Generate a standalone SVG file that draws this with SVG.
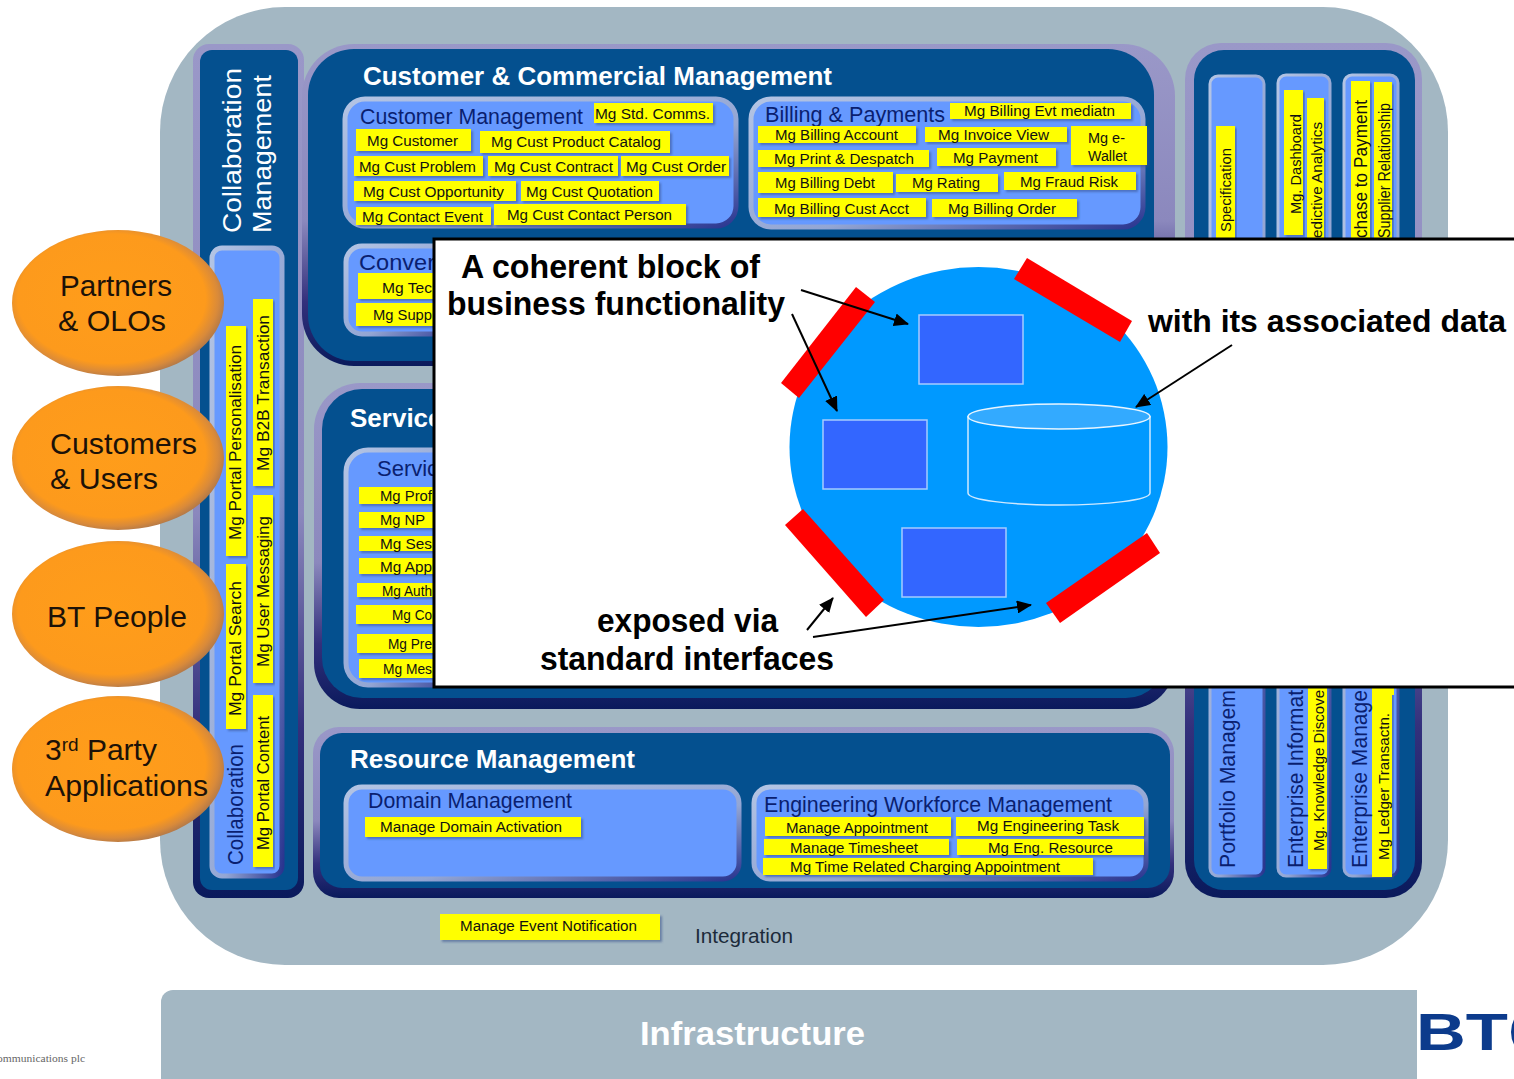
<svg xmlns="http://www.w3.org/2000/svg" width="1514" height="1079" viewBox="0 0 1514 1079">
<style>
text{font-family:"Liberation Sans",Arial,sans-serif}
.y{fill:#ffff00;filter:url(#sh)}
.l{font-size:14px;fill:#111}
.sub{fill:#6699ff;stroke:url(#bev);stroke-width:5}
.h1{font-size:26px;font-weight:bold;fill:#fff}
.h2{font-size:22px;fill:#0a1f70}
.v{font-size:22px;fill:#0a1f70}
.e{font-size:30px;fill:#1c1208;text-anchor:start}
.b{font-size:33px;font-weight:bold;fill:#000}
.bx{fill:#3366ff;stroke:#a6ccff;stroke-width:1.5}
.red{fill:#ff0000}
.arr{fill:none;stroke:#000;stroke-width:2;marker-end:url(#ah)}
</style>
<defs>
<linearGradient id="oc" x1="0" y1="0" x2="0" y2="1"><stop offset="0" stop-color="#9a98c8"/><stop offset=".55" stop-color="#8b88bd"/><stop offset=".8" stop-color="#33307c"/><stop offset="1" stop-color="#0a1a5c"/></linearGradient>
<linearGradient id="bev" x1="0" y1="0" x2="1" y2="1"><stop offset="0" stop-color="#b3c4e4"/><stop offset=".6" stop-color="#93a6d4"/><stop offset="1" stop-color="#2a3590"/></linearGradient>
<radialGradient id="or" cx=".47" cy=".47" r=".54"><stop offset="0" stop-color="#ff9d1a"/><stop offset=".82" stop-color="#fd9a1c"/><stop offset=".93" stop-color="#d98a3a"/><stop offset="1" stop-color="#b57a48"/></radialGradient>
<filter id="sh" x="-10%" y="-10%" width="120%" height="130%"><feDropShadow dx="2" dy="2" stdDeviation="1" flood-color="#39508a" flood-opacity=".55"/></filter>
<marker id="ah" markerWidth="15" markerHeight="13" refX="14" refY="6.500" orient="auto" markerUnits="userSpaceOnUse" viewBox="0 0 15 13"><path d="M0 0L15 6.500L0 13z" fill="#000"/></marker>
<clipPath id="inf"><rect x="150" y="980" width="1267" height="99"/></clipPath>
</defs>

<g id="background"><rect x="160" y="7" width="1288" height="958" rx="125" fill="#a3b7c3"/></g>

<g id="infrastructure">
<rect x="161" y="990" width="1300" height="100" rx="12" fill="#a3b7c3" clip-path="url(#inf)"/>
<text x="640" y="1045" font-size="33" font-weight="bold" fill="#fff" textLength="225" lengthAdjust="spacingAndGlyphs">Infrastructure</text>
</g>
<g id="logo">
<text x="1416" y="1050" font-size="52" font-weight="bold" fill="#0c3b8c" textLength="92" lengthAdjust="spacingAndGlyphs">BT</text>
<circle cx="1538" cy="1032" r="24" fill="none" stroke="#0c3b8c" stroke-width="6"/>
</g>
<text id="footer" x="-3" y="1062" style="font-family:'Liberation Serif',serif" font-size="11" fill="#666" textLength="88" lengthAdjust="spacingAndGlyphs">ommunications  plc</text>

<g id="collaboration">
<rect x="193" y="44" width="111" height="854" rx="16" fill="url(#oc)"/>
<rect x="200" y="50" width="98" height="840" rx="12" fill="#04508f"/>
<text class="h1" transform="translate(241 233) rotate(-90)" style="font-weight:normal" font-size="27" textLength="165" lengthAdjust="spacingAndGlyphs">Collaboration</text>
<text class="h1" transform="translate(271 233) rotate(-90)" style="font-weight:normal" textLength="158" lengthAdjust="spacingAndGlyphs">Management</text>
<rect class="sub" x="212" y="248" width="70" height="628" rx="10"/>
<rect class="y" x="226" y="326" width="20" height="230"/>
<rect class="y" x="226" y="564" width="20" height="165"/>
<rect class="y" x="253" y="299" width="20" height="187"/>
<rect class="y" x="253" y="495" width="20" height="188"/>
<rect class="y" x="253" y="695" width="20" height="172"/>
<text class="l" transform="translate(241 540) rotate(-90)" style="font-size:17px" textLength="195" lengthAdjust="spacingAndGlyphs">Mg Portal Personalisation</text>
<text class="l" transform="translate(241 716) rotate(-90)" style="font-size:17px" textLength="135" lengthAdjust="spacingAndGlyphs">Mg Portal Search</text>
<text class="v" transform="translate(243 865) rotate(-90)" textLength="121" lengthAdjust="spacingAndGlyphs">Collaboration</text>
<text class="l" transform="translate(269 471) rotate(-90)" style="font-size:17px" textLength="156" lengthAdjust="spacingAndGlyphs">Mg B2B Transaction</text>
<text class="l" transform="translate(269 667) rotate(-90)" style="font-size:17px" textLength="151" lengthAdjust="spacingAndGlyphs">Mg User Messaging</text>
<text class="l" transform="translate(269 850) rotate(-90)" style="font-size:17px" textLength="134" lengthAdjust="spacingAndGlyphs">Mg Portal Content</text>
</g>

<g id="customer-commercial">
<rect x="302" y="44" width="873" height="322" rx="52" fill="url(#oc)"/>
<rect x="308" y="49" width="846" height="312" rx="46" fill="#04508f"/>
<text class="h1" x="363" y="85" textLength="469" lengthAdjust="spacingAndGlyphs">Customer &amp; Commercial Management</text>
</g>
<g id="customer-management">
<rect class="sub" x="345" y="99" width="391" height="127" rx="20"/>
<text class="h2" x="360" y="124" textLength="223" lengthAdjust="spacingAndGlyphs">Customer Management</text>
<rect class="y" x="594" y="103" width="119" height="20"/><text class="l" x="595" y="119" textLength="115" lengthAdjust="spacingAndGlyphs">Mg Std. Comms.</text>
<rect class="y" x="356" y="129" width="115" height="22"/><text class="l" x="367" y="146" textLength="91" lengthAdjust="spacingAndGlyphs">Mg Customer</text>
<rect class="y" x="480" y="131" width="190" height="22"/><text class="l" x="491" y="147" textLength="170" lengthAdjust="spacingAndGlyphs">Mg Cust Product Catalog</text>
<rect class="y" x="354" y="156" width="129" height="20"/><text class="l" x="359" y="172" textLength="117" lengthAdjust="spacingAndGlyphs">Mg Cust Problem</text>
<rect class="y" x="488" y="156" width="130" height="20"/><text class="l" x="494" y="172" textLength="119" lengthAdjust="spacingAndGlyphs">Mg Cust Contract</text>
<rect class="y" x="621" y="156" width="108" height="20"/><text class="l" x="626" y="172" textLength="100" lengthAdjust="spacingAndGlyphs">Mg Cust Order</text>
<rect class="y" x="354" y="181" width="162" height="20"/><text class="l" x="363" y="197" textLength="141" lengthAdjust="spacingAndGlyphs">Mg Cust Opportunity</text>
<rect class="y" x="521" y="181" width="138" height="20"/><text class="l" x="526" y="197" textLength="127" lengthAdjust="spacingAndGlyphs">Mg Cust Quotation</text>
<rect class="y" x="356" y="207" width="135" height="18"/><text class="l" x="362" y="222" textLength="121" lengthAdjust="spacingAndGlyphs">Mg Contact Event</text>
<rect class="y" x="494" y="204" width="192" height="21"/><text class="l" x="507" y="220" textLength="165" lengthAdjust="spacingAndGlyphs">Mg Cust Contact Person</text>
</g>
<g id="billing-payments">
<rect class="sub" x="751" y="99" width="392" height="128" rx="20"/>
<text class="h2" x="765" y="122" textLength="180" lengthAdjust="spacingAndGlyphs">Billing &amp; Payments</text>
<rect class="y" x="950" y="103" width="181" height="16"/><text class="l" x="964" y="116" textLength="151" lengthAdjust="spacingAndGlyphs">Mg Billing Evt mediatn</text>
<rect class="y" x="758" y="126" width="158" height="17"/><text class="l" x="775" y="140" textLength="123" lengthAdjust="spacingAndGlyphs">Mg Billing Account</text>
<rect class="y" x="925" y="127" width="142" height="15"/><text class="l" x="938" y="140" textLength="111" lengthAdjust="spacingAndGlyphs">Mg Invoice View</text>
<rect class="y" x="1071" y="126" width="76" height="39"/><text class="l" x="1088" y="143" textLength="37" lengthAdjust="spacingAndGlyphs">Mg e-</text><text class="l" x="1088" y="161" textLength="39" lengthAdjust="spacingAndGlyphs">Wallet</text>
<rect class="y" x="758" y="150" width="171" height="17"/><text class="l" x="774" y="164" textLength="140" lengthAdjust="spacingAndGlyphs">Mg Print &amp; Despatch</text>
<rect class="y" x="937" y="148" width="119" height="18"/><text class="l" x="953" y="163" textLength="85" lengthAdjust="spacingAndGlyphs">Mg Payment</text>
<rect class="y" x="758" y="172" width="135" height="21"/><text class="l" x="775" y="188" textLength="100" lengthAdjust="spacingAndGlyphs">Mg Billing Debt</text>
<rect class="y" x="896" y="174" width="102" height="18"/><text class="l" x="912" y="188" textLength="68" lengthAdjust="spacingAndGlyphs">Mg Rating</text>
<rect class="y" x="1004" y="172" width="132" height="18"/><text class="l" x="1020" y="187" textLength="98" lengthAdjust="spacingAndGlyphs">Mg Fraud Risk</text>
<rect class="y" x="758" y="198" width="168" height="19"/><text class="l" x="774" y="214" textLength="135" lengthAdjust="spacingAndGlyphs">Mg Billing Cust Acct</text>
<rect class="y" x="932" y="199" width="145" height="18"/><text class="l" x="948" y="214" textLength="108" lengthAdjust="spacingAndGlyphs">Mg Billing Order</text>
</g>
<g id="convergence">
<rect class="sub" x="346" y="246" width="120" height="88" rx="16"/>
<text class="h2" x="359" y="270" textLength="76" lengthAdjust="spacingAndGlyphs">Conver</text>
<rect class="y" x="358" y="273" width="110" height="26"/><text class="l" x="382" y="293" textLength="50" lengthAdjust="spacingAndGlyphs">Mg Tec</text>
<rect class="y" x="356" y="303" width="110" height="23"/><text class="l" x="373" y="320" textLength="59" lengthAdjust="spacingAndGlyphs">Mg Supp</text>
</g>

<g id="service-management">
<rect x="314" y="383" width="861" height="326" rx="46" fill="url(#oc)"/>
<rect x="322" y="389" width="844" height="309" rx="40" fill="#04508f"/>
<text class="h1" x="350" y="427">Service</text>
<rect class="sub" x="346" y="450" width="120" height="235" rx="22"/>
<text class="h2" x="377" y="476">Service</text>
<rect class="y" x="359" y="487" width="100" height="17"/><text class="l" x="380" y="501" textLength="52" lengthAdjust="spacingAndGlyphs">Mg Prof</text>
<rect class="y" x="359" y="512" width="100" height="16"/><text class="l" x="380" y="525" textLength="45" lengthAdjust="spacingAndGlyphs">Mg NP</text>
<rect class="y" x="359" y="536" width="100" height="15"/><text class="l" x="380" y="549" textLength="52" lengthAdjust="spacingAndGlyphs">Mg Ses</text>
<rect class="y" x="359" y="558" width="100" height="16"/><text class="l" x="380" y="572" textLength="52" lengthAdjust="spacingAndGlyphs">Mg App</text>
<rect class="y" x="357" y="583" width="100" height="14"/><text class="l" x="382" y="596" textLength="50" lengthAdjust="spacingAndGlyphs">Mg Auth</text>
<rect class="y" x="356" y="605" width="100" height="19"/><text class="l" x="392" y="620" textLength="40" lengthAdjust="spacingAndGlyphs">Mg Co</text>
<rect class="y" x="357" y="634" width="100" height="19"/><text class="l" x="388" y="649" textLength="44" lengthAdjust="spacingAndGlyphs">Mg Pre</text>
<rect class="y" x="359" y="659" width="100" height="19"/><text class="l" x="383" y="674" textLength="49" lengthAdjust="spacingAndGlyphs">Mg Mes</text>
</g>

<g id="resource-management">
<rect x="313" y="727" width="861" height="171" rx="26" fill="url(#oc)"/>
<rect x="320" y="733" width="850" height="155" rx="22" fill="#04508f"/>
<text class="h1" x="350" y="768" textLength="285" lengthAdjust="spacingAndGlyphs">Resource Management</text>
<rect class="sub" x="346" y="787" width="393" height="92" rx="16"/>
<text class="h2" x="368" y="808" textLength="204" lengthAdjust="spacingAndGlyphs">Domain Management</text>
<rect class="y" x="365" y="817" width="216" height="20"/><text class="l" x="380" y="832" textLength="182" lengthAdjust="spacingAndGlyphs">Manage Domain Activation</text>
<rect class="sub" x="754" y="787" width="392" height="92" rx="16"/>
<text class="h2" x="764" y="812" textLength="348" lengthAdjust="spacingAndGlyphs">Engineering Workforce Management</text>
<rect class="y" x="765" y="817" width="186" height="19"/><text class="l" x="786" y="833" textLength="142" lengthAdjust="spacingAndGlyphs">Manage Appointment</text>
<rect class="y" x="956" y="817" width="188" height="19"/><text class="l" x="977" y="831" textLength="142" lengthAdjust="spacingAndGlyphs">Mg Engineering Task</text>
<rect class="y" x="764" y="839" width="185" height="16"/><text class="l" x="790" y="853" textLength="128" lengthAdjust="spacingAndGlyphs">Manage Timesheet</text>
<rect class="y" x="957" y="839" width="187" height="16"/><text class="l" x="988" y="853" textLength="125" lengthAdjust="spacingAndGlyphs">Mg Eng. Resource</text>
<rect class="y" x="763" y="858" width="330" height="17"/><text class="l" x="790" y="872" textLength="270" lengthAdjust="spacingAndGlyphs">Mg Time Related Charging Appointment</text>
</g>

<g id="integration">
<rect class="y" x="440" y="914" width="220" height="26"/><text class="l" x="460" y="931" textLength="177" lengthAdjust="spacingAndGlyphs">Manage Event Notification</text>
<text x="695" y="943" font-size="21" fill="#1c2a3a" textLength="98" lengthAdjust="spacingAndGlyphs">Integration</text>
</g>

<g id="right-column">
<rect x="1185" y="43" width="237" height="855" rx="36" fill="url(#oc)"/>
<rect x="1194" y="50" width="221" height="840" rx="30" fill="#04508f"/>
<rect class="sub" x="1210" y="76" width="54" height="800" rx="8" style="stroke-width:3"/>
<rect class="sub" x="1278" y="75" width="52" height="801" rx="8" style="stroke-width:3"/>
<rect class="sub" x="1344" y="75" width="54" height="801" rx="8" style="stroke-width:3"/>
<rect class="y" x="1216" y="126" width="19" height="120"/>
<rect class="y" x="1284" y="90" width="19" height="145"/>
<rect class="y" x="1307" y="98" width="17" height="150"/>
<rect class="y" x="1351" y="81" width="19" height="165"/>
<rect class="y" x="1374" y="82" width="18" height="165"/>
<text class="l" transform="translate(1231 232) rotate(-90)" style="font-size:15px" textLength="84" lengthAdjust="spacingAndGlyphs">Specification</text>
<text class="l" transform="translate(1301 214) rotate(-90)" style="font-size:15px" textLength="100" lengthAdjust="spacingAndGlyphs">Mg. Dashboard</text>
<text class="l" transform="translate(1322 238) rotate(-90)" style="font-size:14px" textLength="116" lengthAdjust="spacingAndGlyphs">edictive Analytics</text>
<text class="l" transform="translate(1367 238) rotate(-90)" style="font-size:18px" textLength="138" lengthAdjust="spacingAndGlyphs">chase to Payment</text>
<text class="l" transform="translate(1390 238) rotate(-90)" style="font-size:16px" textLength="135" lengthAdjust="spacingAndGlyphs">Supplier Relationship</text>
<rect class="y" x="1308" y="680" width="19" height="189"/>
<rect class="y" x="1372" y="680" width="20" height="197"/>
<rect x="1374" y="680" width="20" height="15" fill="#ffff00"/>
<text class="v" transform="translate(1235 868) rotate(-90)" textLength="178" lengthAdjust="spacingAndGlyphs">Portfolio Managem</text>
<text class="v" transform="translate(1303 868) rotate(-90)" textLength="178" lengthAdjust="spacingAndGlyphs">Enterprise Informat</text>
<text class="l" transform="translate(1324 851) rotate(-90)" style="font-size:14px" textLength="161" lengthAdjust="spacingAndGlyphs">Mg. Knowledge Discove</text>
<text class="v" transform="translate(1367 868) rotate(-90)" textLength="178" lengthAdjust="spacingAndGlyphs">Enterprise Manage</text>
<text class="l" transform="translate(1389 860) rotate(-90)" style="font-size:14px" textLength="147" lengthAdjust="spacingAndGlyphs">Mg Ledger Transactn.</text>
</g>

<g id="partners"><ellipse cx="118" cy="303" rx="106" ry="73" fill="url(#or)"/><text class="e" x="60" y="296" textLength="112" lengthAdjust="spacingAndGlyphs">Partners</text><text class="e" x="58" y="331" textLength="108" lengthAdjust="spacingAndGlyphs">&amp; OLOs</text></g>
<g id="customers"><ellipse cx="118" cy="458" rx="106" ry="72" fill="url(#or)"/><text class="e" x="50" y="454" textLength="147" lengthAdjust="spacingAndGlyphs">Customers</text><text class="e" x="50" y="489" textLength="108" lengthAdjust="spacingAndGlyphs">&amp; Users</text></g>
<g id="bt-people"><ellipse cx="118" cy="614" rx="106" ry="73" fill="url(#or)"/><text class="e" x="47" y="627" textLength="140" lengthAdjust="spacingAndGlyphs">BT People</text></g>
<g id="third-party"><ellipse cx="118" cy="769" rx="106" ry="73" fill="url(#or)"/><text class="e" x="45" y="760">3<tspan dy="-9" font-size="19">rd</tspan><tspan dy="9"> Party</tspan></text><text class="e" x="45" y="796" textLength="163" lengthAdjust="spacingAndGlyphs">Applications</text></g>

<g id="callout">
<rect x="434" y="239" width="1090" height="448" fill="#fff" stroke="#000" stroke-width="3"/>
<g id="block">
<ellipse cx="978.500" cy="447" rx="189" ry="180" fill="#0099ff"/>
<polygon class="red" points="856,287 875,302 799,398 781,383"/>
<polygon class="red" points="1027,258 1132,321 1120,342 1014,279"/>
<polygon class="red" points="803,509 884,600 866,617 785,525"/>
<polygon class="red" points="1147,533 1160,553 1060,623 1046,603"/>
<rect class="bx" x="919" y="315" width="104" height="69"/>
<rect class="bx" x="823" y="420" width="104" height="69"/>
<rect class="bx" x="902" y="528" width="104" height="69"/>
<path d="M968 416V493C968 500 1010 505 1059 505S1150 500 1150 493V416" fill="#0099ff" stroke="#cfe9ff" stroke-width="1.500"/>
<ellipse cx="1059" cy="416.500" rx="91" ry="12.500" fill="#33aaff" stroke="#e8f5ff" stroke-width="1.500"/>
</g>
<text class="b" x="461" y="278" textLength="299" lengthAdjust="spacingAndGlyphs">A coherent block of</text>
<text class="b" x="447" y="315" textLength="338" lengthAdjust="spacingAndGlyphs">business functionality</text>
<text class="b" x="1148" y="332" style="font-size:32px" textLength="358" lengthAdjust="spacingAndGlyphs">with its associated data</text>
<text class="b" x="597" y="632" textLength="181" lengthAdjust="spacingAndGlyphs">exposed via</text>
<text class="b" x="540" y="670" textLength="294" lengthAdjust="spacingAndGlyphs">standard interfaces</text>
</g>

<g id="connectors">
<line class="arr" x1="801" y1="290" x2="908" y2="324"/>
<line class="arr" x1="792" y1="314" x2="837" y2="411"/>
<line class="arr" x1="1232" y1="345" x2="1136" y2="407"/>
<line class="arr" x1="807" y1="630" x2="833" y2="598"/>
<line class="arr" x1="813" y1="637" x2="1031" y2="605"/>
</g>
</svg>
